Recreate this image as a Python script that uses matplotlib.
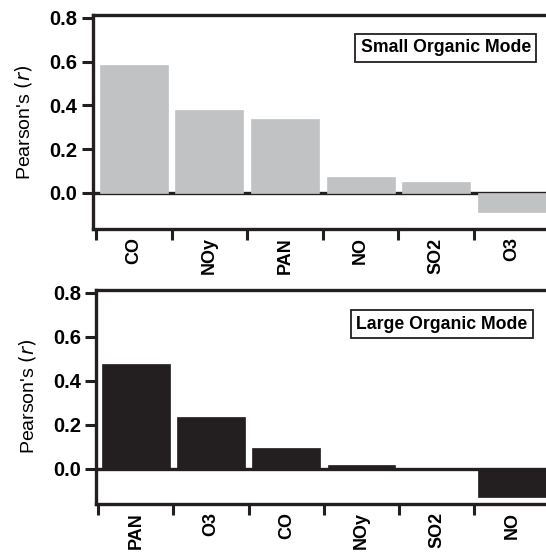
import matplotlib
matplotlib.use("Agg")
import matplotlib.pyplot as plt
import numpy as np

# Pearson's r of each mode vs trace gases
small_labels = ["CO", "NOy", "PAN", "NO", "SO2", "O3"]
small_r = [0.585, 0.38, 0.34, 0.073, 0.052, -0.087]

large_labels = ["PAN", "O3", "CO", "NOy", "SO2", "NO"]
large_r = [0.478, 0.236, 0.096, 0.016, 0.002, -0.129]

plt.rcParams["font.family"] = ["Liberation Sans", "DejaVu Sans"]

fig = plt.figure(figsize=(5.46, 5.52), dpi=100)
ax1 = fig.add_axes([0.170, 0.585, 0.830, 0.388])
ax2 = fig.add_axes([0.176, 0.087, 0.824, 0.388])


def draw_panel(ax, labels, values, color, title, xleft, ybottom, box_xy):
    x = np.arange(len(labels))
    ax.axhline(0, color="#231f20", lw=2.4, zorder=1)
    ax.bar(x, values, width=0.9, color=color, edgecolor=color, lw=0.5, zorder=2)

    ax.set_xlim(xleft, 5.45)
    ax.set_ylim(ybottom, 0.814)

    # ticks at category borders, labels at category centres
    ax.set_xticks(np.arange(-0.5, 5, 1.0))
    ax.set_xticklabels([])
    ax.set_xticks(x, minor=True)
    ax.set_xticklabels(labels, minor=True, rotation=90, fontsize=13, fontweight="bold", va="top")
    ax.tick_params(axis="x", which="major", direction="out", length=8, width=2.2, color="#231f20")
    ax.tick_params(axis="x", which="minor", length=0, pad=6)

    ax.set_yticks([0.0, 0.2, 0.4, 0.6, 0.8])
    ax.set_yticklabels(["0.0", "0.2", "0.4", "0.6", "0.8"], fontsize=14.5, fontweight="bold")
    ax.tick_params(axis="y", direction="out", length=8, width=2.2, pad=3, color="#231f20")

    for side in ["left", "top", "bottom"]:
        ax.spines[side].set_linewidth(2.4)
        ax.spines[side].set_color("#231f20")
    ax.spines["right"].set_visible(False)

    ax.set_ylabel("Pearson's $\\mathit{(r)}$", fontsize=14, labelpad=11)

    ax.text(box_xy[0], box_xy[1], title, transform=ax.transAxes, fontsize=12.7,
            fontweight="bold", ha="center", va="center",
            bbox=dict(boxstyle="square,pad=0.3", fc="white", ec="#231f20", lw=1.3))


draw_panel(ax1, small_labels, small_r, "#c1c2c4", "Small Organic Mode", -0.54, -0.165, (0.779, 0.846))
draw_panel(ax2, large_labels, large_r, "#231f20", "Large Organic Mode", -0.527, -0.159, (0.768, 0.839))

fig.savefig("out.png", dpi=100)
